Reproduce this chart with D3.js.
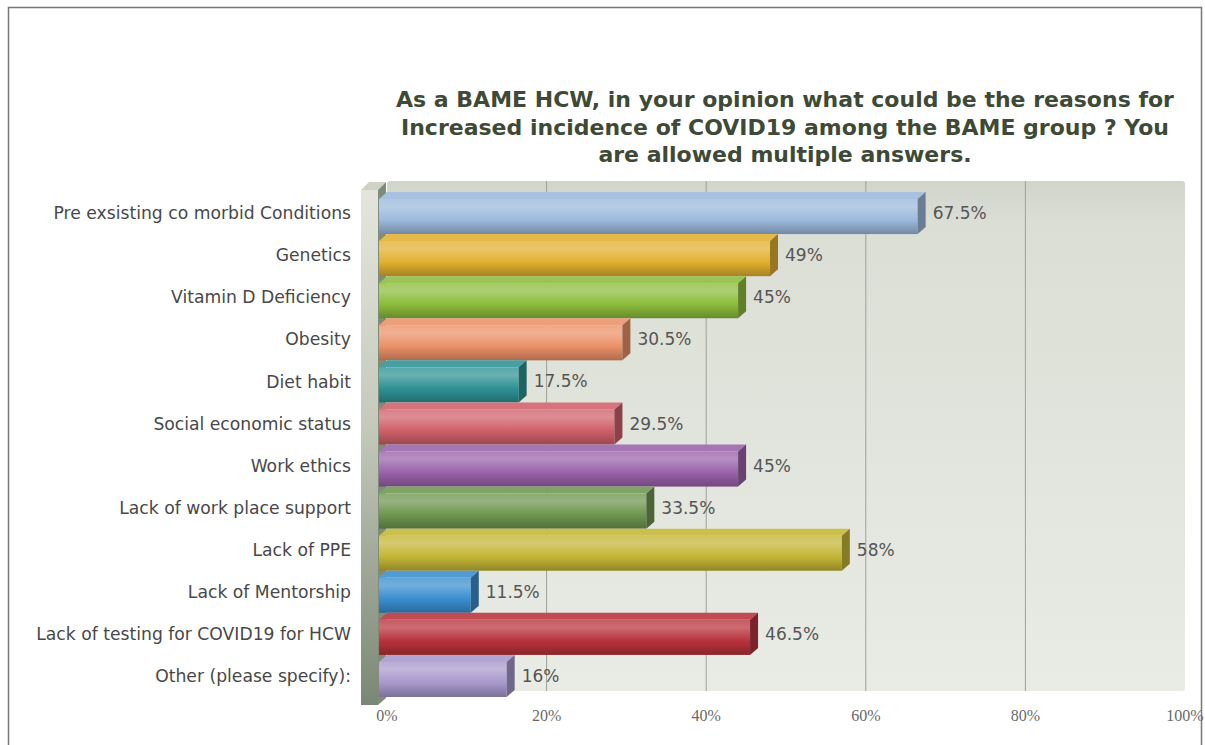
<!DOCTYPE html>
<html><head><meta charset="utf-8">
<script src="https://cdn.jsdelivr.net/npm/d3@7"></script>
<style>body{margin:0;background:#fff;} svg{display:block}</style>
</head><body>
<svg id="c" width="1205" height="745"></svg>
<script>
const categories = ["Pre exsisting co morbid Conditions","Genetics","Vitamin D Deficiency","Obesity","Diet habit","Social economic status","Work ethics","Lack of work place support","Lack of PPE","Lack of Mentorship","Lack of testing for COVID19 for HCW","Other (please specify):"];
const values = [67.5,49,45,30.5,17.5,29.5,45,33.5,58,11.5,46.5,16];
const valueLabels = ["67.5%","49%","45%","30.5%","17.5%","29.5%","45%","33.5%","58%","11.5%","46.5%","16%"];
const tickValues = [0,20,40,60,80,100];
const tickLabels = ["0%","20%","40%","60%","80%","100%"];
const titleLines = ["As a BAME HCW, in your opinion what could be the reasons for","Increased incidence of COVID19 among the BAME group ? You","are allowed multiple answers."];
const palette = ["#9cb9dc","#e2b030","#8cbc3c","#eb9168","#2e9294","#d0606a","#9a62aa","#6e9650","#c4b636","#3a8ed0","#b8323c","#a898cc"];

const svg = d3.select("#c");
const defs = svg.append("defs");
const DX = 8, DY = 7;
const x = d3.scaleLinear().domain([0,100]).range([379,1177]);
const y = d3.scaleBand().domain(categories).range([192,697]).paddingInner(0);
const bw = y.bandwidth();

// border
svg.append("path").attr("d","M8.5,745V7.5H1201.5V745").attr("fill","none").attr("stroke","#777").attr("stroke-width",1.5);

// back wall
const gw = defs.append("linearGradient").attr("id","wall").attr("x1",0).attr("y1",0).attr("x2",0).attr("y2",1);
gw.append("stop").attr("offset","0%").attr("stop-color","#d1d4ca");
gw.append("stop").attr("offset","8%").attr("stop-color","#dbded4");
gw.append("stop").attr("offset","100%").attr("stop-color","#e9ece5");
svg.append("rect").attr("x",x(0)+DX).attr("y",y.range()[0]-DY-4).attr("width",x(100)-x(0)).attr("height",(y.range()[1]-DY)-(y.range()[0]-DY-4)+1).attr("rx",3).attr("fill","url(#wall)");

// gridlines
svg.selectAll("line.grid").data(tickValues.filter(d=>d>0&&d<100)).join("line").attr("class","grid")
  .attr("x1",d=>x(d)+DX).attr("x2",d=>x(d)+DX).attr("y1",y.range()[0]-DY-4).attr("y2",y.range()[1]-DY+1)
  .attr("stroke","#9da199").attr("stroke-width",1);

// left wall
const gl = defs.append("linearGradient").attr("id","lwall").attr("x1",0).attr("y1",0).attr("x2",0).attr("y2",1);
gl.append("stop").attr("offset","0%").attr("stop-color","#e4e6dd");
gl.append("stop").attr("offset","45%").attr("stop-color","#c5cabd");
gl.append("stop").attr("offset","100%").attr("stop-color","#7b8775");
const wx0 = x(0)-18, wx1 = x(0)-1, wy0 = y.range()[0]-2, wy1 = y.range()[1]+8;
svg.append("polygon").attr("points",[[wx0,wy0],[wx0+DX,wy0-DY-1],[wx1+DX,wy0-DY-1],[wx1,wy0]].join(" ")).attr("fill","#cfd3c7");
svg.append("polygon").attr("points",[[wx1,wy0],[wx1+DX,wy0-DY-1],[wx1+DX,wy1-DY],[wx1,wy1]].join(" ")).attr("fill","#7f8c78");
svg.append("rect").attr("x",wx0).attr("y",wy0).attr("width",wx1-wx0).attr("height",wy1-wy0).attr("fill","url(#lwall)");

// bars
palette.forEach((c,i)=>{
  const col = d3.color(c);
  const g = defs.append("linearGradient").attr("id","f"+i).attr("x1",0).attr("y1",0).attr("x2",0).attr("y2",1);
  g.append("stop").attr("offset","0%").attr("stop-color",d3.interpolateRgb(c,"#fff")(0.2));
  g.append("stop").attr("offset","22%").attr("stop-color",d3.interpolateRgb(c,"#fff")(0.28));
  g.append("stop").attr("offset","60%").attr("stop-color",c);
  g.append("stop").attr("offset","100%").attr("stop-color",col.darker(0.85).formatHex());
});
const bars = svg.selectAll("g.bar").data(categories).join("g").attr("class","bar");
bars.append("polygon").attr("points",(d,i)=>{const yb=y(d),x0=x(0),x1=x(values[i]);return [[x0,yb+DY],[x0+DX,yb],[x1+DX,yb],[x1,yb+DY]].join(" ");})
  .attr("fill",(d,i)=>d3.interpolateRgb(palette[i],"#fff")(0.12));
bars.append("rect").attr("x",x(0)).attr("y",d=>y(d)+DY).attr("width",(d,i)=>x(values[i])-x(0)).attr("height",bw-DY).attr("fill",(d,i)=>`url(#f${i})`);
bars.append("polygon").attr("points",(d,i)=>{const yb=y(d),x1=x(values[i]);return [[x1,yb+DY],[x1+DX,yb],[x1+DX,yb+bw-DY],[x1,yb+bw]].join(" ");})
  .attr("fill",(d,i)=>d3.color(palette[i]).darker(1.1).formatHex());

// value labels
svg.selectAll("text.val").data(categories).join("text").attr("class","val")
  .attr("x",(d,i)=>x(values[i])+DX+7).attr("y",d=>y(d)+bw/2).attr("dy","0.36em")
  .attr("font-family","DejaVu Sans, Verdana, sans-serif").attr("font-size",17).attr("fill","#555")
  .text((d,i)=>valueLabels[i]);

// category labels
svg.selectAll("text.cat").data(categories).join("text").attr("class","cat")
  .attr("x",351).attr("y",d=>y(d)+bw/2).attr("dy","0.36em").attr("text-anchor","end")
  .attr("font-family","DejaVu Sans, Verdana, sans-serif").attr("font-size",17.2).attr("fill","#484848")
  .text(d=>d);

// x axis ticks
svg.selectAll("text.tick").data(tickValues).join("text").attr("class","tick")
  .attr("x",(d)=>x(d)+DX).attr("y",721).attr("text-anchor","middle")
  .attr("font-family","Liberation Serif, Times New Roman, serif").attr("font-size",16).attr("fill","#6a6a6a")
  .text((d,i)=>tickLabels[i]);

// title
svg.selectAll("text.title").data(titleLines).join("text").attr("class","title")
  .attr("x",785).attr("y",(d,i)=>107+i*27.5).attr("text-anchor","middle")
  .attr("font-family","DejaVu Sans, Verdana, sans-serif").attr("font-weight","bold").attr("font-size",22).attr("fill","#3e4a36")
  .text(d=>d);
</script>
</body></html>
